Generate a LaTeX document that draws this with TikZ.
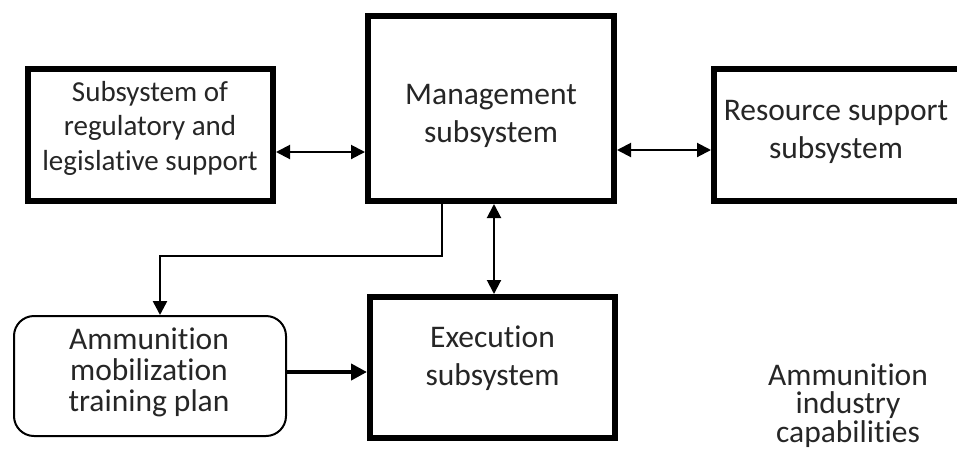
\documentclass[tikz,border=0pt]{standalone}
\usepackage{fontspec}
\setmainfont{Carlito}[Ligatures=CommonOff]
\usetikzlibrary{arrows.meta}
\definecolor{ink}{RGB}{38,38,38}
\begin{document}
\begin{tikzpicture}[x=1pt,y=-1pt,
  box/.style={draw=black,line width=6pt,fill=white,inner sep=0pt,outer sep=3pt},
  planbox/.style={draw=black,line width=2pt,rounded corners=20pt,fill=white,inner sep=0pt,outer sep=1pt},
  txt/.style={text=ink,align=center,anchor=base,inner sep=0pt},
  big/.style={font=\fontsize{31.5pt}{38pt}\selectfont},
  link/.style={line width=2pt,{Triangle[length=14pt,width=14pt]}-{Triangle[length=14pt,width=14pt]}},
  feed/.style={line width=2.5pt,-{Triangle[length=14pt,width=14pt]}},
  flow/.style={line width=4pt,-{Triangle[length=16pt,width=16pt]}}]
\useasboundingbox (0,0) rectangle (957,448);

% subsystem boxes
\node[box,minimum width=245pt,minimum height=132pt] (reg)  at (150.5,135) {};
\node[box,minimum width=246pt,minimum height=185pt] (mgmt) at (491,108.5) {};
\node[box,minimum width=249pt,minimum height=132pt] (res)  at (838.5,135) {};
\node[box,minimum width=245pt,minimum height=141pt] (exec) at (492.5,367.5) {};
\node[planbox,minimum width=272pt,minimum height=120pt] (plan) at (150,376) {};

% labels (anchored at the baseline of their last line)
\node[txt,font=\fontsize{29pt}{34.5pt}\selectfont] (reg-t) at (150,170)
  {Subsystem of\\regulatory and\\legislative support};
\node[txt,big] (mgmt-t) at (491,142) {Management\\subsystem};
\node[txt,big] (res-t) at (836,158) {Resource support\\subsystem};
\node[txt,big] (exec-t) at (492.5,385) {Execution\\subsystem};
\node[txt,font=\fontsize{31.5pt}{31pt}\selectfont] (plan-t) at (149,411.5)
  {Ammunition\\mobilization\\training plan};
\node[txt,font=\fontsize{31.5pt}{28.5pt}\selectfont] (cap-t) at (848,442)
  {Ammunition\\industry\\capabilities};

% connector guides
\coordinate (ly) at (0,152);
\coordinate (ry) at (0,150);
\coordinate (vx) at (494,0);
\coordinate (bend) at (442,256);
\coordinate (px) at (160,0);
\coordinate (ay) at (0,372);

% connectors
\draw[link] (reg.east |- ly) -- (mgmt.west |- ly);
\draw[link] (mgmt.east |- ry) -- (res.west |- ry);
\draw[link] (mgmt.south -| vx) -- (exec.north -| vx);
\draw[feed] (mgmt.south -| bend) -- (bend) -| (plan.north -| px);
\draw[flow] (plan.east |- ay) -- (exec.west |- ay);
\end{tikzpicture}
\end{document}
